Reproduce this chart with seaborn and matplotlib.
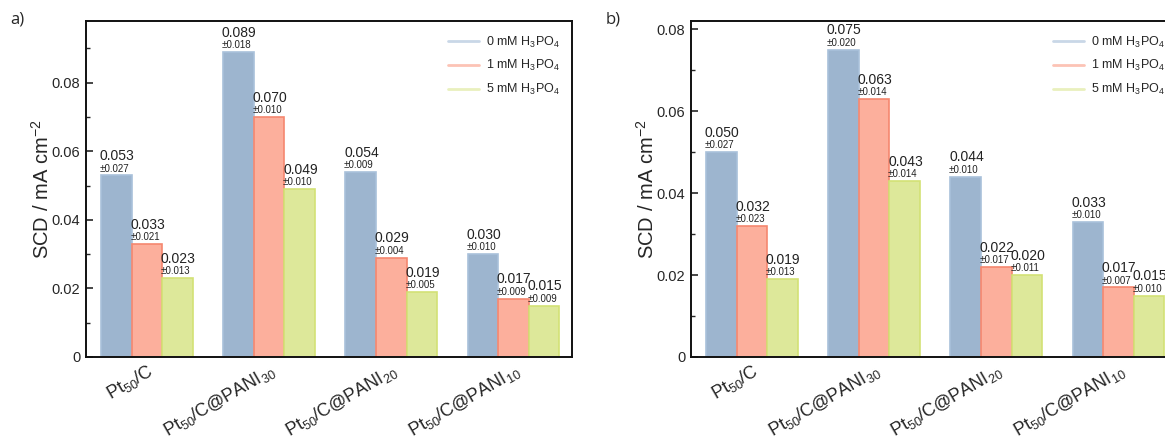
import numpy as np
import pandas as pd
import matplotlib
matplotlib.use("Agg")
import matplotlib.pyplot as plt
from matplotlib.lines import Line2D
from matplotlib.ticker import MultipleLocator, FuncFormatter
import seaborn as sns

sns.set_theme(style="white")
plt.rcParams["font.family"] = ["Liberation Sans", "DejaVu Sans"]
plt.rcParams["mathtext.fontset"] = "custom"
plt.rcParams["mathtext.rm"] = "Liberation Sans"
plt.rcParams["mathtext.it"] = "Liberation Sans:italic"

# Catalysts and electrolyte concentrations
catalysts = [r"$\mathregular{Pt_{50}/C}$",
             r"$\mathregular{Pt_{50}/C@PANI_{30}}$",
             r"$\mathregular{Pt_{50}/C@PANI_{20}}$",
             r"$\mathregular{Pt_{50}/C@PANI_{10}}$"]
conc_labels = [r"0 mM H$_3$PO$_4$", r"1 mM H$_3$PO$_4$", r"5 mM H$_3$PO$_4$"]

# Panel a: specific current density and its spread
a_0mm = [0.053, 0.089, 0.054, 0.030]
a_1mm = [0.033, 0.070, 0.029, 0.017]
a_5mm = [0.023, 0.049, 0.019, 0.015]
a_0mm_err = [0.027, 0.018, 0.009, 0.010]
a_1mm_err = [0.021, 0.010, 0.004, 0.009]
a_5mm_err = [0.013, 0.010, 0.005, 0.009]

# Panel b
b_0mm = [0.050, 0.075, 0.044, 0.033]
b_1mm = [0.032, 0.063, 0.022, 0.017]
b_5mm = [0.019, 0.043, 0.020, 0.015]
b_0mm_err = [0.027, 0.020, 0.010, 0.010]
b_1mm_err = [0.023, 0.014, 0.017, 0.007]
b_5mm_err = [0.013, 0.014, 0.011, 0.010]

fill_colors = ["#9db5cf", "#fcaf9c", "#dde89a"]
edge_colors = ["#a9c1da", "#f5876f", "#d3e175"]
legend_colors = ["#c9d7e7", "#fcc3b5", "#e9f0bd"]


def build_frame(series):
    rows = []
    for label, vals in zip(conc_labels, series):
        for cat, v in zip(catalysts, vals):
            rows.append({"catalyst": cat, "conc": label, "scd": v})
    return pd.DataFrame(rows)


def draw_panel(ax, series, errors, ymax):
    df = build_frame(series)
    sns.barplot(data=df, x="catalyst", y="scd", hue="conc", order=catalysts,
                hue_order=conc_labels, palette=fill_colors, width=0.75,
                gap=0, errorbar=None, legend=False, saturation=1, ax=ax)
    for cont, ec, vals, errs in zip(ax.containers, edge_colors, series, errors):
        for bar, v, e in zip(cont, vals, errs):
            bar.set_edgecolor(ec)
            bar.set_linewidth(1.2)
            x0 = bar.get_x()
            ax.annotate(f"\u00b1{e:.3f}", xy=(x0, v), xytext=(-1, 1.2),
                        textcoords="offset points", ha="left", va="bottom",
                        fontsize=7, color="#222222")
            ax.annotate(f"{v:.3f}", xy=(x0, v), xytext=(-1, 8.8),
                        textcoords="offset points", ha="left", va="bottom",
                        fontsize=10, color="#222222")
    ax.set_xlim(-0.5, 3.48)
    ax.set_ylim(0, ymax)
    ax.yaxis.set_major_locator(MultipleLocator(0.02))
    ax.yaxis.set_minor_locator(MultipleLocator(0.01))
    ax.yaxis.set_major_formatter(FuncFormatter(lambda v, p: "0" if abs(v) < 1e-9 else f"{v:.2f}"))
    ax.tick_params(axis="y", which="major", direction="in", length=5, width=1.2,
                   labelsize=10.5, left=True, pad=4)
    ax.tick_params(axis="y", which="minor", direction="in", length=3, width=1.0, left=True)
    ax.tick_params(axis="x", length=0, labelsize=13, pad=3)
    for lab in ax.get_xticklabels():
        lab.set_rotation(30)
        lab.set_ha("right")
        lab.set_rotation_mode("anchor")
    ax.set_xlabel("")
    ax.set_ylabel(r"SCD / mA cm$^{-2}$", fontsize=14.5, labelpad=-1)
    for sp in ax.spines.values():
        sp.set_visible(True)
        sp.set_color("#111111")
        sp.set_linewidth(1.4)
    handles = [Line2D([0], [0], color=c, lw=2) for c in legend_colors]
    ax.legend(handles, conc_labels, loc="upper left", bbox_to_anchor=(0.735, 0.975),
              frameon=False, fontsize=9, handlelength=2.5, handletextpad=0.55,
              labelspacing=0.7, borderaxespad=0)


fig = plt.figure(figsize=(11.65, 4.38), dpi=100)
ax_a = fig.add_axes([86 / 1165, 81 / 438, 486 / 1165, 336 / 438])
ax_b = fig.add_axes([691 / 1165, 81 / 438, 486 / 1165, 336 / 438])

draw_panel(ax_a, [a_0mm, a_1mm, a_5mm], [a_0mm_err, a_1mm_err, a_5mm_err], 0.098)
draw_panel(ax_b, [b_0mm, b_1mm, b_5mm], [b_0mm_err, b_1mm_err, b_5mm_err], 0.082)

fig.text(10 / 1165, 1 - 20 / 438, "a)", fontsize=12, family="Open Sans", va="center", ha="left")
fig.text(606 / 1165, 1 - 20 / 438, "b)", fontsize=12, family="Open Sans", va="center", ha="left")

fig.savefig("out.png", dpi=100)
